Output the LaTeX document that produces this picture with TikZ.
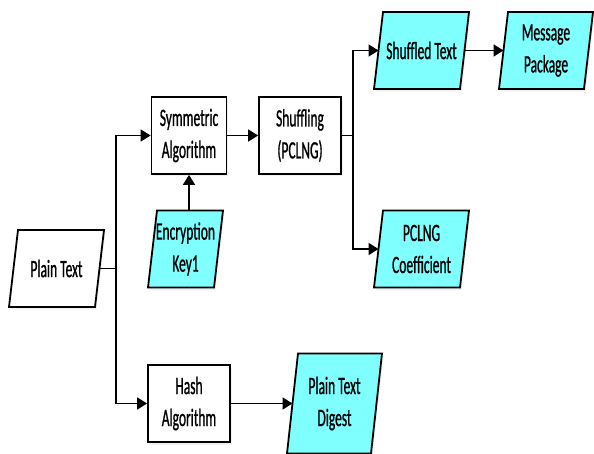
\documentclass[tikz,border=0pt]{standalone}
\usepackage{fontspec}
\setmainfont[FakeStretch=0.54, FakeBold=0.8]{Carlito}
\usetikzlibrary{arrows.meta,shadows}
\definecolor{datacyan}{HTML}{80FFFF}
\pgfdeclarelayer{back}
\pgfsetlayers{back,main}
\newcommand{\databox}[3][4.5pt]{%
    \draw[line width=1.8pt, fill=#3, drop shadow={shadow xshift=1.5pt, shadow yshift=-2.5pt, opacity=0.12}]
        ([xshift=-#1]#2.south west) -- ([xshift=#1]#2.north west) --
        ([xshift=#1]#2.north east) -- ([xshift=-#1]#2.south east) -- cycle;}
\begin{document}
\begin{tikzpicture}[x=1pt, y=-1pt,
    font=\fontsize{25}{32}\selectfont,
    proc/.style={draw, line width=1.8pt, fill=white, minimum width=75pt, minimum height=77pt, align=center, inner sep=0pt,
        drop shadow={shadow xshift=1.5pt, shadow yshift=-2.5pt, opacity=0.12}},
    data/.style={minimum width=86pt, minimum height=77pt, align=center, inner sep=0pt, outer sep=0pt},
    link/.style={line width=1.8pt, -{Triangle[length=10pt,width=12pt]}},
    wire/.style={line width=1.8pt}]
    \useasboundingbox (0,0) rectangle (594,454);

    \node[data] (plain) at (56.5,268.5) {Plain Text};
    \node[proc] (sym) at (189,135.5) {Symmetric\\Algorithm};
    \node[proc, minimum width=82pt] (shuf) at (300,135.5) {Shuffling\\(PCLNG)};
    \node[data, minimum width=66pt] (key) at (185.5,249) {Encryption\\Key1};
    \node[data] (shtext) at (421.5,50.5) {Shuffled Text};
    \node[data, minimum width=85pt] (msg) at (546,50.5) {Message\\Package};
    \node[data] (coef) at (421.5,249) {PCLNG\\Coefficient};
    \node[proc, minimum width=82pt] (hash) at (189,403.5) {Hash\\Algorithm};
    \node[data, minimum width=84pt, minimum height=100pt] (digest) at (334.5,403.5) {Plain Text\\Digest};

    \begin{pgfonlayer}{back}
        \databox{plain}{white}
        \databox{key}{datacyan}
        \databox{shtext}{datacyan}
        \databox{msg}{datacyan}
        \databox{coef}{datacyan}
        \databox[5.5pt]{digest}{datacyan}
    \end{pgfonlayer}

    \coordinate (split) at (116,0);
    \coordinate (split2) at (353,0);

    \draw[wire] (plain.east) -- (plain.east -| split);
    \draw[link] (plain.east -| split) |- (sym.west);
    \draw[link] (plain.east -| split) |- (hash.west);
    \draw[link] (sym.south |- key.north) -- (sym.south);
    \draw[link] (sym.east) -- (shuf.west);
    \draw[wire] (shuf.east) -- (shuf.east -| split2);
    \draw[link] (shuf.east -| split2) |- (shtext.west);
    \draw[link] (shuf.east -| split2) |- (coef.west);
    \draw[link] (shtext.east) -- (msg.west);
    \draw[link] (hash.east) -- (digest.west);
\end{tikzpicture}
\end{document}
